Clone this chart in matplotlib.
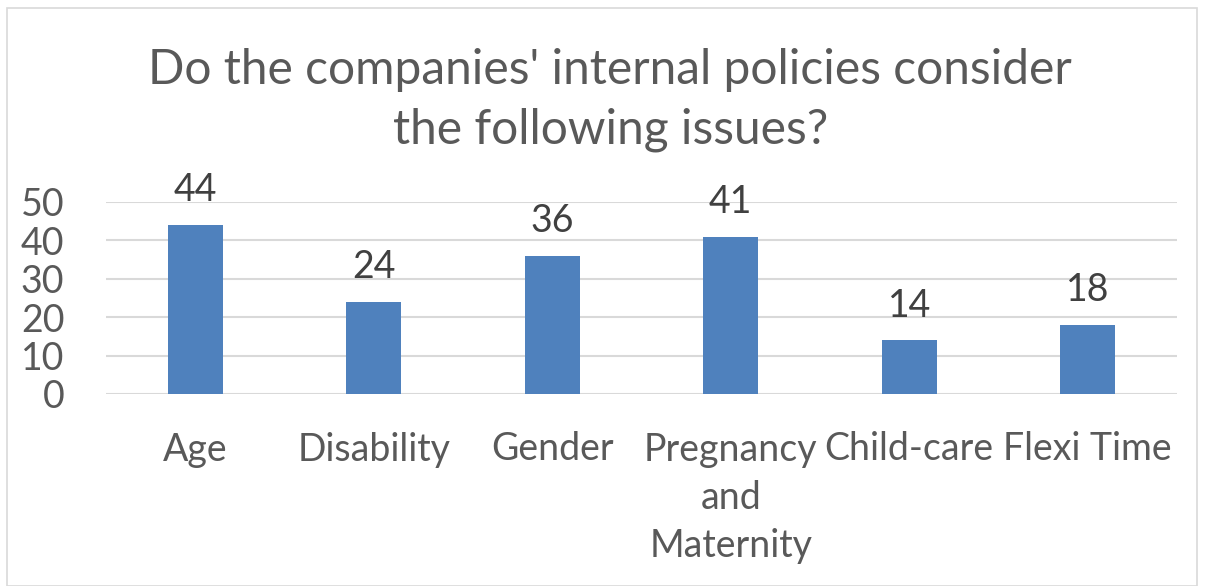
import matplotlib.pyplot as plt
from matplotlib.patches import Rectangle

categories = ["Age", "Disability", "Gender", "Pregnancy\nand\nMaternity", "Child-care", "Flexi Time"]
values = [44, 24, 36, 41, 14, 18]
yticks = [0, 10, 20, 30, 40, 50]

plt.rcParams['font.family'] = ['Lato', 'DejaVu Sans']

fig = plt.figure(figsize=(12.06, 5.86), dpi=100)
ax = fig.add_axes([106/1206, 1 - 394/586, (1177-106)/1206, (394-202)/586])

x = range(len(categories))
ax.bar(x, values, width=0.31, color='#4f81bd', zorder=3)
for i, v in enumerate(values):
    ax.annotate(str(v), (i, v), xytext=(0, 12), textcoords='offset points',
                ha='center', va='bottom', fontsize=27, color='#404040', annotation_clip=False)

ax.set_xlim(-0.5, len(categories) - 0.5)
ax.set_ylim(0, 50)
ax.set_yticks(yticks)
ax.set_xticks(list(x))
ax.set_xticklabels(categories, fontsize=27, color='#595959', linespacing=1.42, va='top')
ax.tick_params(axis='y', labelsize=27, labelcolor='#595959', length=0, pad=30)
ax.tick_params(axis='x', length=0, pad=27)
ax.grid(axis='y', color='#d9d9d9', linewidth=1.5, zorder=0)
for s in ax.spines.values():
    s.set_visible(False)

fig.text(0.506, 1 - 100/586, "Do the companies' internal policies consider\nthe following issues?",
         ha='center', va='center', fontsize=34.5, color='#595959', linespacing=1.45)

fig.patches.append(Rectangle((7/1206, 0), 1190/1206, 1 - 8/586, transform=fig.transFigure,
                             fill=False, edgecolor='#d9d9d9', linewidth=1.2))

fig.savefig("out.png", dpi=100)
